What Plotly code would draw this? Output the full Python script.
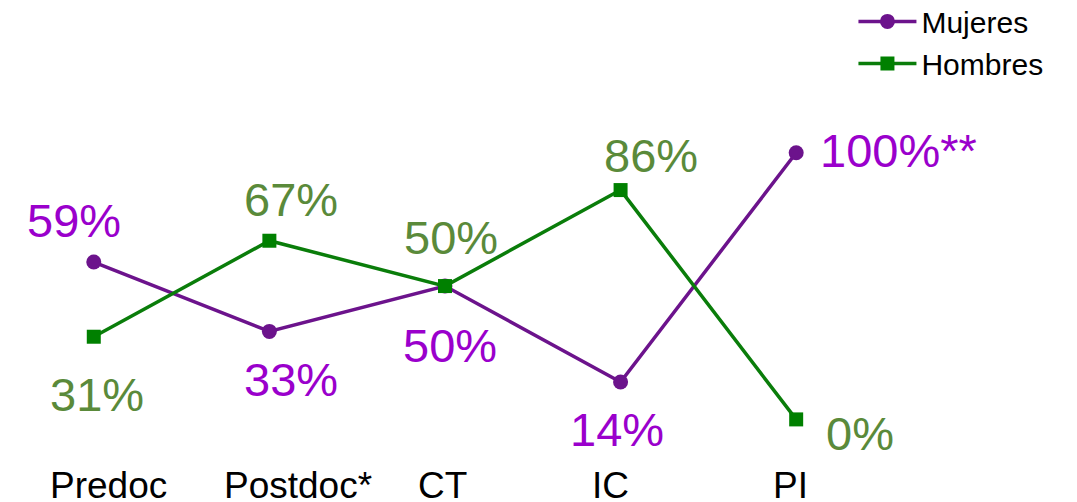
import plotly.graph_objects as go

categories = ["Predoc", "Postdoc*", "CT", "IC", "PI"]
mujeres = [59, 33, 50, 14, 100]
hombres = [31, 67, 50, 86, 0]
mujeres_labels = ["59%", "33%", "50%", "14%", "100%**"]
hombres_labels = ["31%", "67%", "50%", "86%", "0%"]

# label offsets in px (xshift, yshift, xanchor)
m_off = [(-20, 42, "center"), (22, -48, "center"), (5, -59, "center"), (-4, -47, "center"), (22, 2, "left")]
h_off = [(3, -58, "center"), (22, 41, "center"), (6, 49, "center"), (30, 35, "center"), (28, -14, "left")]
cat_xshift = [15, 29, -2, -10, -6]

FONT = "Arial, Liberation Sans, sans-serif"
M_LINE = "#6c138c"
H_LINE = "#0a7d0a"
M_TEXT = "#9a00cc"
H_TEXT = "#5a8a3a"

fig = go.Figure()
fig.add_trace(go.Scatter(x=categories, y=mujeres, mode="lines+markers", name="Mujeres",
                         line=dict(color=M_LINE, width=3.5),
                         marker=dict(symbol="circle", size=15, color=M_LINE),
                         cliponaxis=False))
fig.add_trace(go.Scatter(x=categories, y=hombres, mode="lines+markers", name="Hombres",
                         line=dict(color=H_LINE, width=3.5),
                         marker=dict(symbol="square", size=14, color="#008000"),
                         cliponaxis=False))

for c, v, t, (dx, dy, xa) in zip(categories, mujeres, mujeres_labels, m_off):
    fig.add_annotation(x=c, y=v, text=t, showarrow=False, xshift=dx, yshift=dy, xanchor=xa,
                       font=dict(family=FONT, size=47, color=M_TEXT))
for c, v, t, (dx, dy, xa) in zip(categories, hombres, hombres_labels, h_off):
    fig.add_annotation(x=c, y=v, text=t, showarrow=False, xshift=dx, yshift=dy, xanchor=xa,
                       font=dict(family=FONT, size=47, color=H_TEXT))
# category labels (slightly offset as in the reference)
for c, dx in zip(categories, cat_xshift):
    fig.add_annotation(x=c, xref="x", y=0, yref="paper", text=c, showarrow=False,
                       xshift=dx, yshift=-32, yanchor="middle",
                       font=dict(family=FONT, size=37, color="black"))

fig.update_layout(
    width=1077, height=502,
    margin=dict(l=5, r=194, t=125, b=57, autoexpand=False),
    paper_bgcolor="white", plot_bgcolor="white",
    font=dict(family=FONT, color="black"),
    showlegend=True,
    legend=dict(xref="container", yref="paper", x=0.785, y=1.43, xanchor="left", yanchor="top",
                font=dict(family=FONT, size=30, color="black"), bgcolor="rgba(0,0,0,0)",
                tracegroupgap=0, itemwidth=58),
    xaxis=dict(type="category", range=[-0.46, 4.54], showgrid=False, zeroline=False, showline=False,
               automargin=False, showticklabels=False, ticks=""),
    yaxis=dict(range=[-12.6, 107.4], visible=False, showgrid=False, zeroline=False, automargin=False),
)

fig.write_html("out.html")
